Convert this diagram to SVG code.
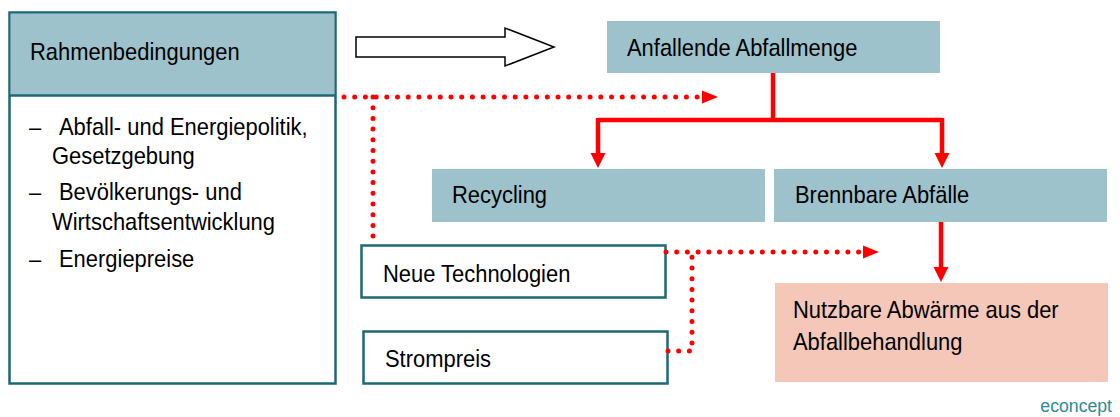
<svg xmlns="http://www.w3.org/2000/svg" width="1120" height="417" viewBox="0 0 1120 417">
<style>
text{font-family:"Liberation Sans",Arial,sans-serif;font-size:23.6px;fill:#000}
.teal{fill:#9DC2CB}
.ob{fill:#fff;stroke:#1E6875;stroke-width:2.5}
.dot{fill:none;stroke:#FF0000;stroke-width:5;stroke-linecap:round;stroke-dasharray:0 10.7}
.solid{fill:none;stroke:#FF0000;stroke-width:4.5}
.red{fill:#FF0000}
</style>
<rect width="1120" height="417" fill="#fff"/>
<g id="rahmen">
<rect x="9.5" y="12.5" width="326" height="371" class="ob"/>
<rect x="10.75" y="13.75" width="323.5" height="81.5" class="teal"/>
<line x1="9.5" y1="95.5" x2="335.5" y2="95.5" stroke="#1E6875" stroke-width="2.5"/>
<text transform="translate(30,60) scale(0.93,1)">Rahmenbedingungen</text>
<text transform="translate(29,135) scale(0.93,1)">–</text><text transform="translate(59,135) scale(0.93,1)">Abfall- und Energiepolitik,</text>
<text transform="translate(52,164) scale(0.93,1)">Gesetzgebung</text>
<text transform="translate(29,200) scale(0.93,1)">–</text><text transform="translate(59,200) scale(0.93,1)">Bevölkerungs- und</text>
<text transform="translate(52,230) scale(0.93,1)">Wirtschaftsentwicklung</text>
<text transform="translate(29,267) scale(0.93,1)">–</text><text transform="translate(59,267) scale(0.93,1)">Energiepreise</text>
</g>
<g id="bigarrow">
<polygon points="356,37 505,37 505,28 554,47 505,66 505,57 356,57" fill="#fff" stroke="#000" stroke-width="1.5"/>
</g>
<g id="anfallende">
<rect x="607" y="21" width="333" height="52" class="teal"/>
<text transform="translate(627,56) scale(0.93,1)">Anfallende Abfallmenge</text>
</g>
<g id="recycling">
<rect x="432" y="169" width="333" height="53" class="teal"/>
<text transform="translate(452,203) scale(0.93,1)">Recycling</text>
</g>
<g id="brennbare">
<rect x="774" y="169" width="333" height="53" class="teal"/>
<text transform="translate(795,203) scale(0.93,1)">Brennbare Abfälle</text>
</g>
<g id="nutzbare">
<rect x="775" y="283" width="333" height="99" fill="#F4C7B8"/>
<text transform="translate(793,318) scale(0.93,1)">Nutzbare Abwärme aus der</text>
<text transform="translate(793,350) scale(0.93,1)">Abfallbehandlung</text>
</g>
<g id="neue">
<rect x="361.5" y="245.5" width="304" height="52" class="ob"/>
<text transform="translate(383,282) scale(0.93,1)">Neue Technologien</text>
</g>
<g id="strompreis">
<rect x="363.5" y="331.5" width="304" height="52" class="ob"/>
<text transform="translate(385,367) scale(0.93,1)">Strompreis</text>
</g>
<g id="connectors">
<path class="dot" d="M344,97 H703"/>
<polygon class="red" points="702,90.5 718,97 702,103.5"/>
<path class="dot" d="M373,97 V239"/>
<path class="dot" d="M666,252 H864"/>
<polygon class="red" points="863,245.5 879,252 863,258.5"/>
<path class="dot" d="M668,351 H692 V252"/>
<path class="solid" d="M773,73 V120 M598,120 H942 M598,118 V155 M942,118 V155"/>
<polygon class="red" points="590.5,153 605.5,153 598,168"/>
<polygon class="red" points="934.5,153 949.5,153 942,168"/>
<path class="solid" d="M941,222 V268"/>
<polygon class="red" points="933.5,267 948.5,267 941,282"/>
</g>
<text transform="translate(1112,412) scale(0.93,1)" text-anchor="end" style="font-size:19px;fill:#2A8C96">econcept</text>
</svg>
